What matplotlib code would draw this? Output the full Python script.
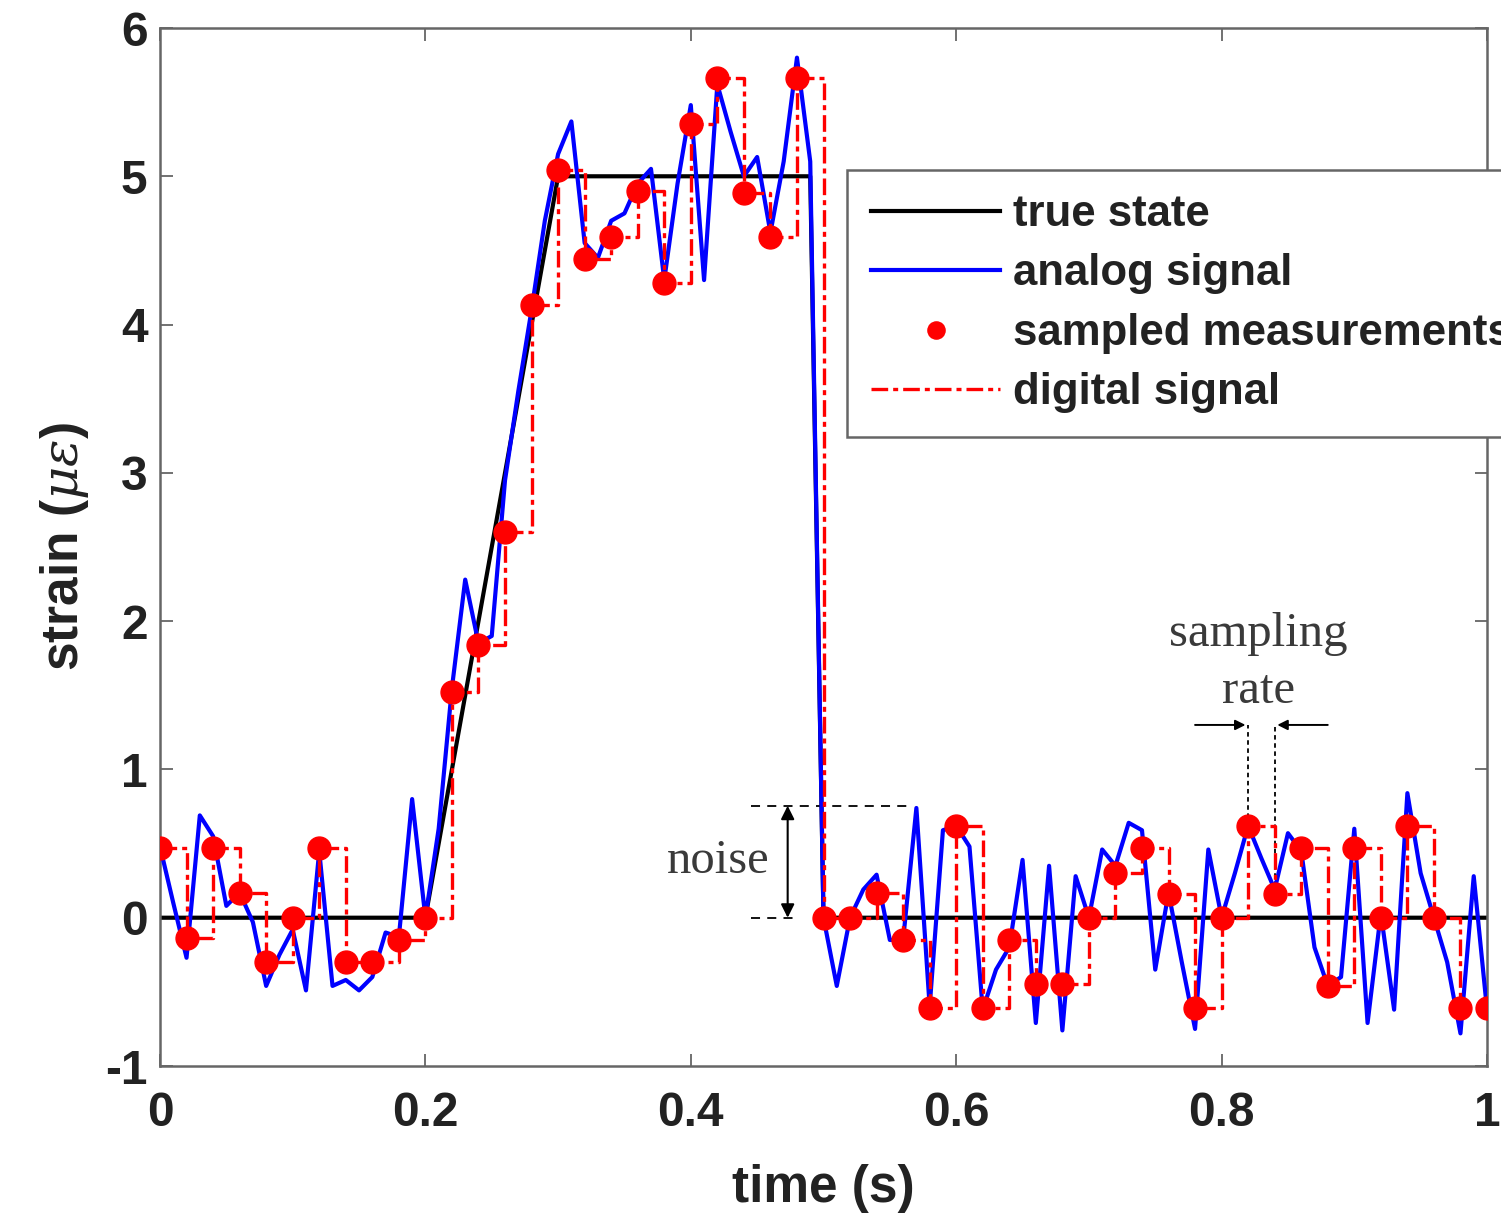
import matplotlib
matplotlib.use("Agg")
import matplotlib.pyplot as plt
import numpy as np

plt.rcParams['font.family'] = ['Liberation Sans', 'DejaVu Sans']
plt.rcParams['axes.unicode_minus'] = False
plt.rcParams['mathtext.fontset'] = 'dejavuserif'

# ---------------- data ----------------
true_t = [0.0, 0.2, 0.3, 0.49, 0.5, 1.0]
true_y = [0.0, 0.0, 5.0, 5.0, 0.0, 0.0]

analog_t = [round(0.01 * i, 2) for i in range(101)]
analog_y = [
    0.48, 0.10, -0.27, 0.69, 0.55, 0.08, 0.17, -0.03, -0.46, -0.25,
    -0.08, -0.49, 0.45, -0.46, -0.42, -0.49, -0.40, -0.10, -0.13, 0.80,
    0.00, 0.60, 1.55, 2.28, 1.85, 1.90, 2.95, 3.55, 4.10, 4.70,
    5.15, 5.37, 4.55, 4.45, 4.70, 4.75, 4.95, 5.05, 4.30, 4.95,
    5.48, 4.30, 5.62, 5.30, 5.00, 5.13, 4.62, 5.10, 5.80, 5.10,
    0.00, -0.46, 0.00, 0.19, 0.29, -0.15, -0.15, 0.74, -0.60, 0.59,
    0.62, 0.48, -0.62, -0.35, -0.20, 0.39, -0.71, 0.35, -0.76, 0.28,
    0.00, 0.46, 0.35, 0.64, 0.59, -0.35, 0.17, -0.30, -0.75, 0.46,
    0.00, 0.30, 0.62, 0.40, 0.19, 0.57, 0.45, -0.20, -0.46, -0.40,
    0.60, -0.71, 0.03, -0.62, 0.84, 0.30, 0.00, -0.30, -0.78, 0.28,
    -0.62,
]

sample_t = [round(0.02 * i, 2) for i in range(51)]
sample_y = [
    0.47, -0.14, 0.47, 0.17, -0.30, 0.00, 0.47, -0.30, -0.30, -0.15,
    0.00, 1.52, 1.84, 2.60, 4.13, 5.04, 4.44, 4.59, 4.90, 4.28,
    5.35, 5.66, 4.89, 4.59, 5.66, 0.00, 0.00, 0.17, -0.15, -0.61,
    0.62, -0.61, -0.15, -0.45, -0.45, 0.00, 0.30, 0.47, 0.16, -0.61,
    0.00, 0.62, 0.16, 0.47, -0.46, 0.47, 0.00, 0.62, 0.00, -0.61,
    -0.61,
]

x_ticks = [0, 0.2, 0.4, 0.6, 0.8, 1.0]
x_tick_labels = ['0', '0.2', '0.4', '0.6', '0.8', '1']
y_ticks = [-1, 0, 1, 2, 3, 4, 5, 6]
y_tick_labels = ['-1', '0', '1', '2', '3', '4', '5', '6']

legend_labels = ['true state', 'analog signal', 'sampled measurements', 'digital signal']

# ---------------- figure ----------------
W, H = 1501, 1224
fig = plt.figure(figsize=(W / 100, H / 100), dpi=100)
ax = fig.add_axes([160 / W, 1 - 1066 / H, (1487 - 160) / W, (1066 - 28) / H])

l_true, = ax.plot(true_t, true_y, color='black', lw=3.0, zorder=2)
l_an, = ax.plot(analog_t, analog_y, color=(0, 0, 1), lw=3.0, zorder=3)
l_dig, = ax.plot(sample_t, sample_y, color=(1, 0, 0), lw=2.4,
                 drawstyle='steps-post', linestyle=(0, (5, 1.5, 1.5, 1.5)), zorder=4)
l_smp, = ax.plot(sample_t, sample_y, linestyle='none', marker='o', ms=16.5,
                 color=(1, 0, 0), mec=(1, 0, 0), zorder=5)

ax.set_xlim(0, 1)
ax.set_ylim(-1, 6)
ax.set_xticks(x_ticks)
ax.set_xticklabels(x_tick_labels)
ax.set_yticks(y_ticks)
ax.set_yticklabels(y_tick_labels)

for s in ax.spines.values():
    s.set_color('#666666')
    s.set_linewidth(1.8)
ax.tick_params(direction='in', length=9, width=1.3, color='#666666',
               top=True, right=True, labelsize=34.5, labelcolor='#222222')
ax.tick_params(axis='x', pad=18)
ax.tick_params(axis='y', pad=9)
for lab in ax.get_xticklabels() + ax.get_yticklabels():
    lab.set_fontweight('bold')

ax.set_xlabel('time (s)', fontsize=37, fontweight='bold', color='#222222', labelpad=20)
ax.set_ylabel(r'strain ($\mu\epsilon$)', fontsize=37, fontweight='bold', color='#222222', labelpad=10)

# ---------------- annotations ----------------
ann_kw = dict(color='black', lw=1.3)
ax.plot([0.445, 0.565], [0.755, 0.755], linestyle=(0, (5, 4)), **ann_kw)
ax.plot([0.445, 0.478], [0.0, 0.0], linestyle=(0, (5, 4)), **ann_kw)
ax.annotate('', xy=(0.473, 0.755), xytext=(0.473, 0.0),
            arrowprops=dict(arrowstyle='<|-|>', color='black', lw=1.5,
                            mutation_scale=20, shrinkA=0, shrinkB=0))
ax.text(0.421, 0.38, 'noise', family='Liberation Serif', fontsize=35,
        color='#3a3a3a', ha='center', va='center')

ax.plot([0.82, 0.82], [0.62, 1.30], linestyle=(0, (2.5, 2)), **ann_kw)
ax.plot([0.84, 0.84], [0.16, 1.30], linestyle=(0, (2.5, 2)), **ann_kw)
ax.annotate('', xy=(0.818, 1.30), xytext=(0.78, 1.30),
            arrowprops=dict(arrowstyle='-|>', color='black', lw=1.4,
                            mutation_scale=15, shrinkA=0, shrinkB=0))
ax.annotate('', xy=(0.842, 1.30), xytext=(0.88, 1.30),
            arrowprops=dict(arrowstyle='-|>', color='black', lw=1.4,
                            mutation_scale=15, shrinkA=0, shrinkB=0))
ax.text(0.8275, 1.91, 'sampling', family='Liberation Serif', fontsize=35,
        color='#3a3a3a', ha='center', va='center')
ax.text(0.8275, 1.53, 'rate', family='Liberation Serif', fontsize=35,
        color='#3a3a3a', ha='center', va='center')

# ---------------- legend ----------------
leg = fig.legend([l_true, l_an, l_smp, l_dig], legend_labels,
                 loc='upper left', bbox_to_anchor=(847 / W, 1 - 170 / H),
                 bbox_transform=fig.transFigure, borderaxespad=0,
                 prop={'family': 'Liberation Sans', 'weight': 'bold', 'size': 31.5},
                 handlelength=2.95, handletextpad=0.3, labelspacing=0.42,
                 borderpad=0.55, fancybox=False, framealpha=1,
                 edgecolor='#666666', markerscale=0.75)
leg.get_frame().set_linewidth(1.8)
for t in leg.get_texts():
    t.set_color('#222222')

fig.savefig('out.png', dpi=100)
